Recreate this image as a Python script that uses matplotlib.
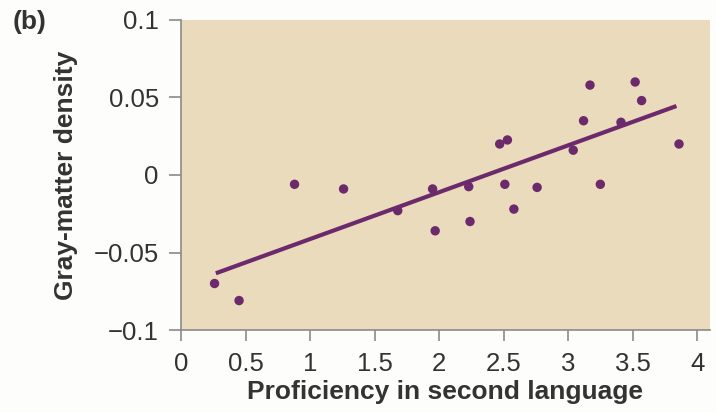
import numpy as np
import matplotlib
matplotlib.use("Agg")
import matplotlib.pyplot as plt

plt.rcParams["font.family"] = ["Liberation Sans", "DejaVu Sans"]

# scatter points
proficiency = [0.26, 0.45, 0.88, 1.26, 1.68, 1.95, 1.97, 2.23, 2.24, 2.47,
               2.53, 2.51, 2.58, 2.76, 3.04, 3.12, 3.17, 3.25, 3.41, 3.52,
               3.57, 3.86]
density = [-0.070, -0.081, -0.006, -0.009, -0.023, -0.009, -0.036, -0.0075,
           -0.030, 0.020, 0.0226, -0.006, -0.022, -0.008, 0.016, 0.035,
           0.058, -0.006, 0.034, 0.060, 0.048, 0.020]

# regression line end points
fit_x = [0.27, 3.84]
fit_y = [-0.0634, 0.0445]

xticks = [0, 0.5, 1, 1.5, 2, 2.5, 3, 3.5, 4]
xticklabels = ["0", "0.5", "1", "1.5", "2", "2.5", "3", "3.5", "4"]
yticks = [-0.1, -0.05, 0, 0.05, 0.1]
yticklabels = ["\u22120.1", "\u22120.05", "0", "0.05", "0.1"]

purple = "#6c2a6c"
beige = "#eadbbc"
grey = "#8a8a8a"
text_col = "#333333"

fig = plt.figure(figsize=(7.16, 4.12), dpi=100)
fig.patch.set_facecolor("#fdfdfb")
ax = fig.add_axes([0.2528, 0.199, 0.7388, 0.7525])
ax.set_facecolor(beige)

ax.plot(fit_x, fit_y, color=purple, lw=3, solid_capstyle="butt", zorder=2)
ax.scatter(proficiency, density, s=46, color=purple, edgecolors="none", zorder=3)

ax.set_xlim(0, 4.1)
ax.set_ylim(-0.1, 0.1)
ax.set_xticks(xticks)
ax.set_xticklabels(xticklabels)
ax.set_yticks(yticks)
ax.set_yticklabels(yticklabels)

for side in ["top", "right"]:
    ax.spines[side].set_visible(False)
for side in ["left", "bottom"]:
    ax.spines[side].set_color(grey)
    ax.spines[side].set_linewidth(1.2)

ax.tick_params(axis="both", colors=grey, width=1.2, labelcolor=text_col,
               labelsize=18.5)
ax.tick_params(axis="y", length=9, pad=7)
ax.tick_params(axis="x", length=8, pad=8)

ax.set_xlabel("Proficiency in second language", fontsize=19,
              fontweight="bold", color=text_col, labelpad=3)
ax.set_ylabel("Gray-matter density", fontsize=19, fontweight="bold",
              color=text_col, labelpad=11)

fig.text(0.018, 0.975, "(b)", fontsize=19, fontweight="bold",
         color=text_col, ha="left", va="top")

fig.savefig("out.png", dpi=100, facecolor=fig.get_facecolor())
